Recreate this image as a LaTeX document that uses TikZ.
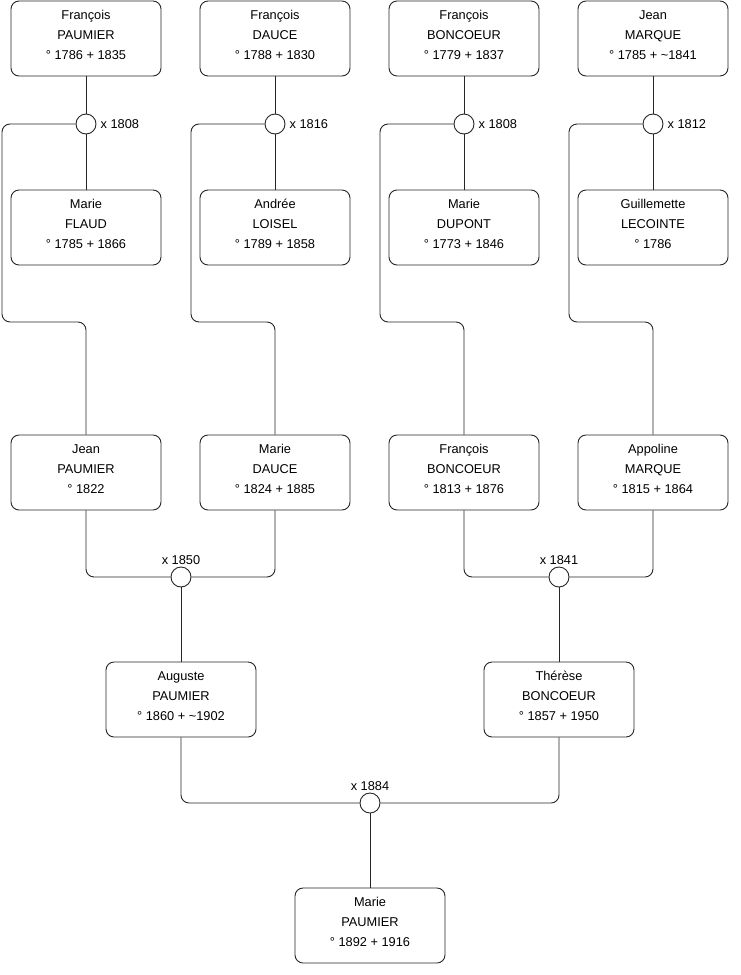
\documentclass[tikz,border=0pt]{standalone}
\usepackage{fontspec}
\setmainfont{Liberation Sans}
\usetikzlibrary{positioning}

\begin{document}
\begin{tikzpicture}[x=1pt,y=-1pt,
    person/.style={draw=black!85,rounded corners=8pt,minimum width=150pt,minimum height=75pt,
      align=center,font=\fontsize{12.8}{20}\selectfont,line width=0.9pt,fill=white,
      execute at end node={\rule[-7pt]{0pt}{7pt}}},
    wed/.style={circle,draw=black!85,fill=white,minimum size=20pt,inner sep=0pt,line width=0.9pt},
    year/.style={font=\fontsize{12.8}{14}\selectfont,inner sep=2pt},
    link/.style={draw=black!85,line width=0.9pt,rounded corners=8pt}
  ]
    \useasboundingbox (0,0) rectangle (740,975);

    % grands-parents paternels et maternels
    \node[person] (fpaumier) at (86,38.5) {François\\PAUMIER\\° 1786 + 1835};
    \node[person] (fdauce) at (275,38.5) {François\\DAUCE\\° 1788 + 1830};
    \node[person] (fboncoeur) at (464,38.5) {François\\BONCOEUR\\° 1779 + 1837};
    \node[person] (jmarque) at (653,38.5) {Jean\\MARQUE\\° 1785 + \textasciitilde1841};

    \node[wed] (wed1) at (86,124) {};
    \node[wed] (wed2) at (275,124) {};
    \node[wed] (wed3) at (464,124) {};
    \node[wed] (wed4) at (653,124) {};
    \node[year,anchor=west,xshift=2pt] at (wed1.east) {x 1808};
    \node[year,anchor=west,xshift=2pt] at (wed2.east) {x 1816};
    \node[year,anchor=west,xshift=2pt] at (wed3.east) {x 1808};
    \node[year,anchor=west,xshift=2pt] at (wed4.east) {x 1812};

    \node[person] (mflaud) at (86,227.5) {Marie\\FLAUD\\° 1785 + 1866};
    \node[person] (aloisel) at (275,227.5) {Andrée\\LOISEL\\° 1789 + 1858};
    \node[person] (mdupont) at (464,227.5) {Marie\\DUPONT\\° 1773 + 1846};
    \node[person] (glecointe) at (653,227.5) {Guillemette\\LECOINTE\\° 1786};

    % parents
    \node[person] (jpaumier) at (86,472.5) {Jean\\PAUMIER\\° 1822};
    \node[person] (mdauce) at (275,472.5) {Marie\\DAUCE\\° 1824 + 1885};
    \node[person] (fboncoeur2) at (464,472.5) {François\\BONCOEUR\\° 1813 + 1876};
    \node[person] (amarque) at (653,472.5) {Appoline\\MARQUE\\° 1815 + 1864};

    \node[wed] (wed5) at (181,577) {};
    \node[wed] (wed6) at (559,577) {};
    \node[year,above=0pt of wed5] {x 1850};
    \node[year,above=0pt of wed6] {x 1841};

    \node[person] (apaumier) at (181,699.5) {Auguste\\PAUMIER\\° 1860 + \textasciitilde1902};
    \node[person] (tboncoeur) at (559,699.5) {Thérèse\\BONCOEUR\\° 1857 + 1950};

    \node[wed] (wed7) at (370,803) {};
    \node[year,above=0pt of wed7] {x 1884};

    \node[person] (mpaumier) at (370,925.5) {Marie\\PAUMIER\\° 1892 + 1916};

    % liens
    \draw[link] (fpaumier) -- (wed1);
    \draw[link] (wed1) -- (mflaud);
    \draw[link] (wed1.west) -| (2,322) -| (jpaumier.north);
    \draw[link] (fdauce) -- (wed2);
    \draw[link] (wed2) -- (aloisel);
    \draw[link] (wed2.west) -| (191,322) -| (mdauce.north);
    \draw[link] (fboncoeur) -- (wed3);
    \draw[link] (wed3) -- (mdupont);
    \draw[link] (wed3.west) -| (380,322) -| (fboncoeur2.north);
    \draw[link] (jmarque) -- (wed4);
    \draw[link] (wed4) -- (glecointe);
    \draw[link] (wed4.west) -| (569,322) -| (amarque.north);

    \draw[link] (jpaumier.south) |- (wed5.west);
    \draw[link] (mdauce.south) |- (wed5.east);
    \draw[link] (wed5) -- (apaumier);
    \draw[link] (fboncoeur2.south) |- (wed6.west);
    \draw[link] (amarque.south) |- (wed6.east);
    \draw[link] (wed6) -- (tboncoeur);

    \draw[link] (apaumier.south) |- (wed7.west);
    \draw[link] (tboncoeur.south) |- (wed7.east);
    \draw[link] (wed7) -- (mpaumier);
  \end{tikzpicture}
\end{document}
